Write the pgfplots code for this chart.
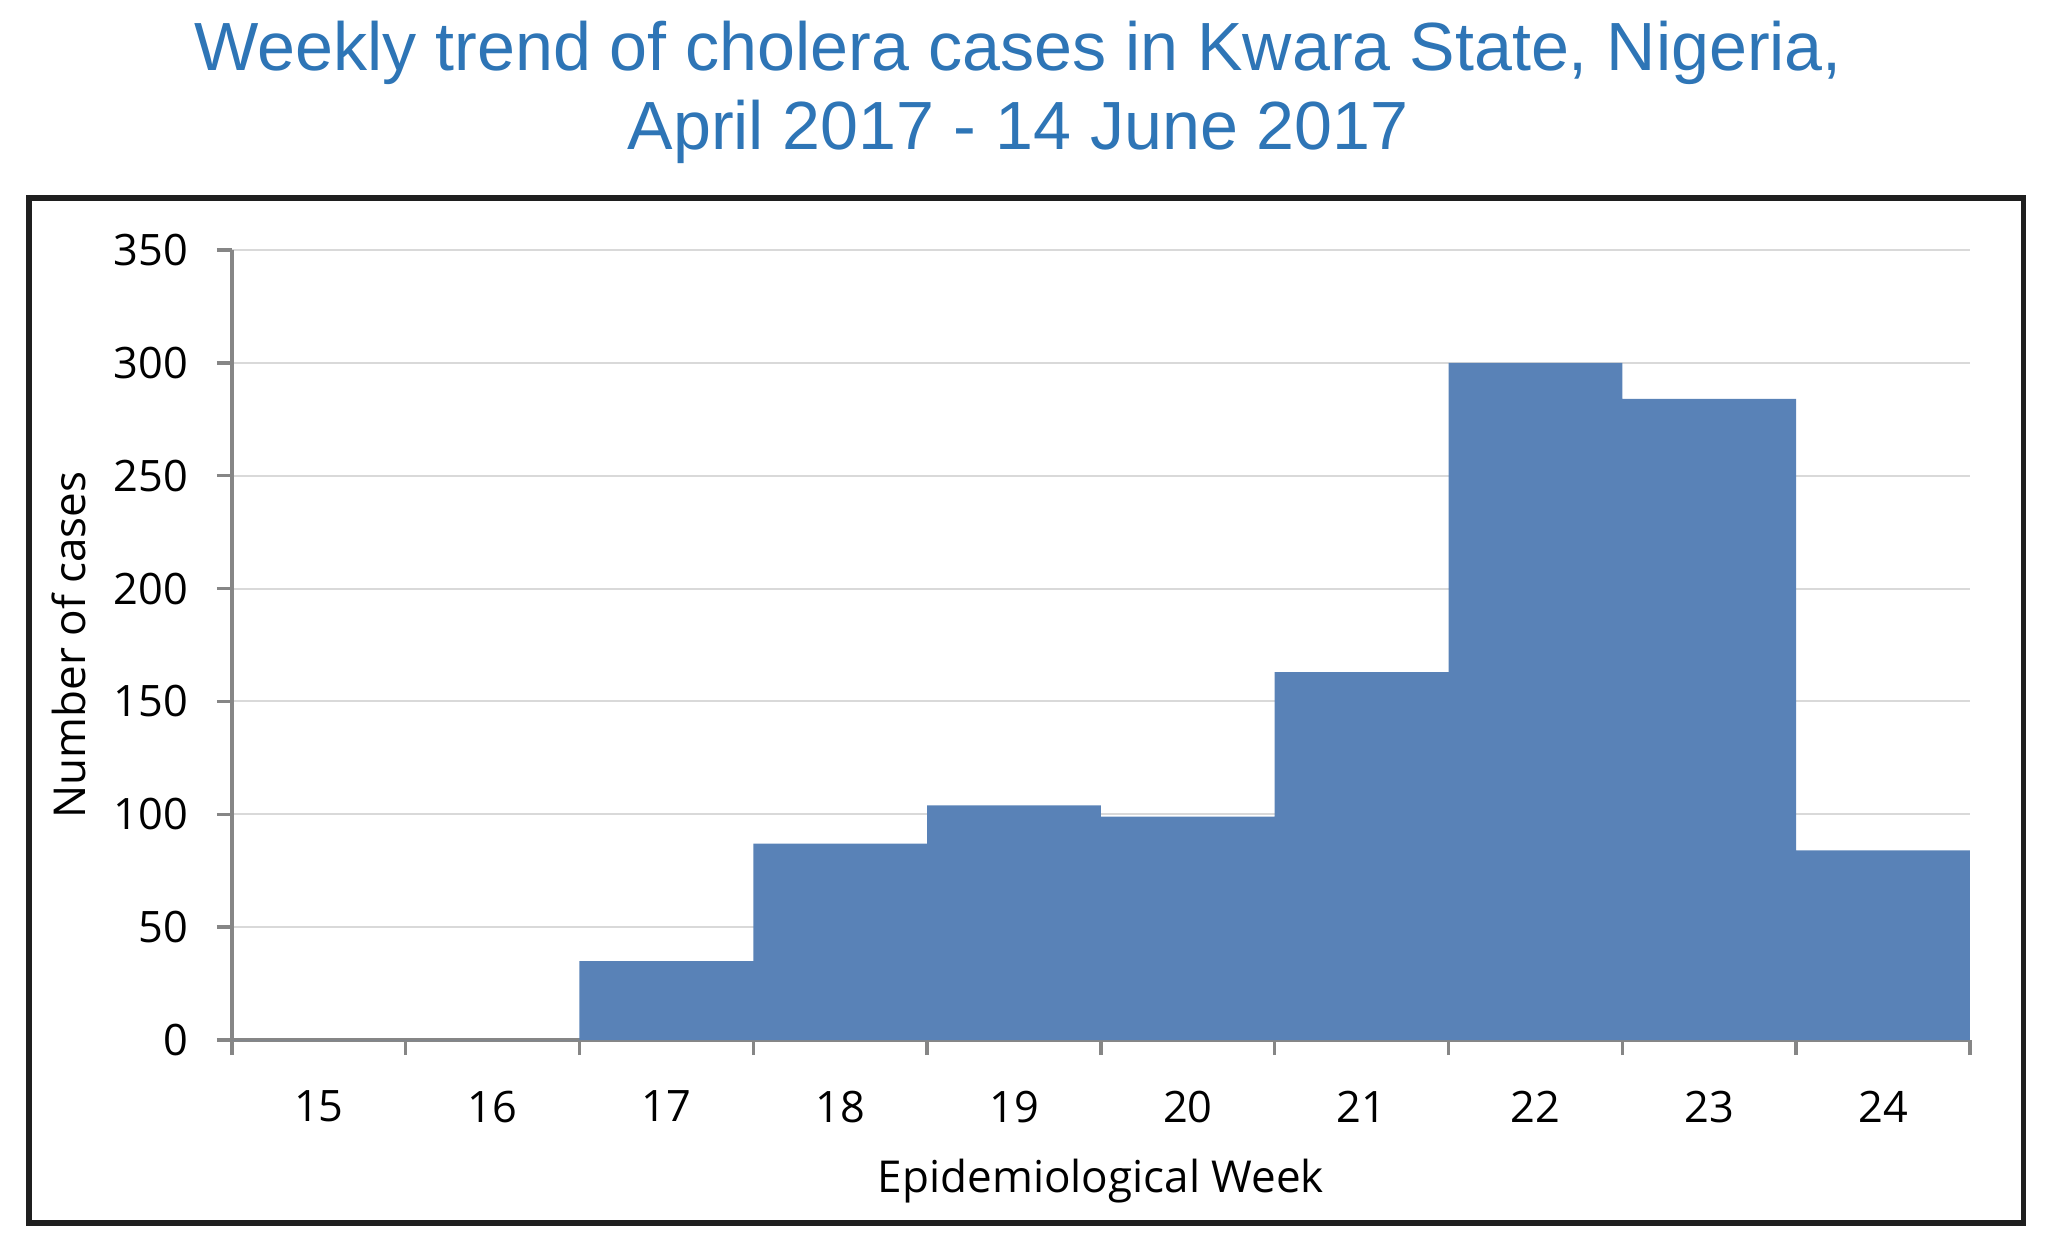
\documentclass[border=0pt]{standalone}
\usepackage{pgfplots}
\pgfplotsset{compat=1.18}
\usepackage{fontspec}
\setmainfont{Open Sans}
\newfontfamily\titlefont{Liberation Sans}
\definecolor{titleblue}{RGB}{46,117,182}
\definecolor{barblue}{RGB}{89,130,183}
\definecolor{axgray}{RGB}{134,134,134}
\definecolor{gridgray}{RGB}{217,217,217}
\begin{document}
\begin{tikzpicture}
\path[use as bounding box] (0,0) rectangle (600pt,367.8pt);
\draw[line width=1.6pt, black!88] (8.5pt,9.1pt) rectangle (593.4pt,309.7pt);
\node[font=\titlefont\fontsize{20}{24}\selectfont, text=titleblue] at (298.6pt,352.3pt) {Weekly trend of cholera cases in Kwara State, Nigeria,};
\node[font=\titlefont\fontsize{20}{24}\selectfont, text=titleblue] at (298.6pt,329.2pt) {April 2017 - 14 June 2017};
\begin{axis}[
  at={(68pt,62.8pt)}, anchor=south west,
  width=509.7pt, height=231.7pt, scale only axis,
  xmin=15, xmax=25, ymin=0, ymax=350,
  axis x line=bottom, axis y line=left,
  axis line style={-, axgray, line width=1pt},
  xtick={15,...,25},
  x tick label as interval,
  xticklabels={15,16,17,18,19,20,21,22,23,24},
  ytick={0,50,...,350},
  tick align=outside,
  major tick length=4.4pt,
  tick style={axgray, line width=1pt},
  ymajorgrids, grid style={gridgray, line width=0.6pt},
  /pgf/number format/assume math mode=true,
  tick label style={font=\fontsize{12.7}{15}\selectfont},
  xticklabel style={yshift=-7pt},
  yticklabel style={xshift=-5pt},
  xlabel={Epidemiological Week},
  ylabel={Number of cases},
  label style={font=\fontsize{12.9}{15}\selectfont},
  xlabel style={at={(axis description cs:0.5,-0.178)}, anchor=center},
  ylabel style={at={(axis description cs:-0.094,0.5)}, anchor=center},
]
\addplot[ybar interval, fill=barblue, draw=none] coordinates {
(15,0) (16,0) (17,35) (18,87) (19,104) (20,99) (21,163) (22,300) (23,284) (24,84) (25,84)
};
\end{axis}
\end{tikzpicture}
\end{document}
